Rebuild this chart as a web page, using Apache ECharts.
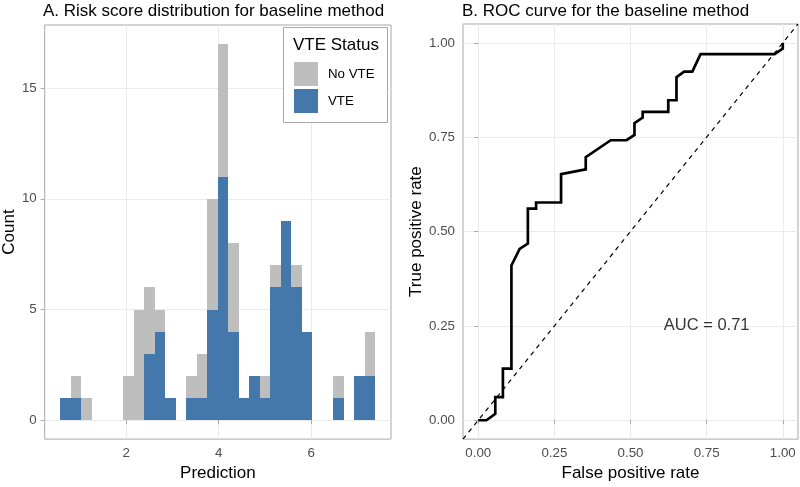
<!DOCTYPE html>
<html>
<head>
<meta charset="utf-8">
<script src="https://cdn.jsdelivr.net/npm/echarts@6/dist/echarts.min.js"></script>
<style>html,body{margin:0;padding:0;background:#fff}#c{width:800px;height:487px}</style>
</head>
<body>
<div id="c"></div>
<script>
// ---- Panel A: histogram (30 bins) ----
const binCenters = [0.6934,0.9202,1.1470,1.3738,1.6006,1.8274,2.0542,2.2810,2.5078,2.7346,
                    2.9614,3.1882,3.4150,3.6418,3.8686,4.0954,4.3222,4.5490,4.7758,5.0026,
                    5.2294,5.4562,5.6830,5.9098,6.1366,6.3634,6.5902,6.8170,7.0438,7.2706];
const binWidth = 0.2268;
const vteCounts   = [1,1,0,0,0,0,0,0,3,4,1,0,1,1,5,11,4,1,2,1,6,9,6,4,0,0,1,0,2,2];
const noVteCounts = [0,1,1,0,0,0,2,5,3,1,0,0,1,2,5,6,4,0,0,1,1,0,1,0,0,0,1,0,0,2];
const histXTicks = [2,4,6];
const histYTicks = [0,5,10,15];
const histXRange = [0.2398, 7.7232];
const histYRange = [-0.85, 17.85];
const legendNames = ['No VTE','VTE'];
const legendTitle = 'VTE Status';

// ---- Panel B: ROC curve ----
const rocFpr = [0,0.027,0.056,0.056,0.081,0.081,0.109,0.109,0.136,0.163,0.163,0.19,0.19,0.272,0.272,0.353,0.353,
                0.435,0.487,0.513,0.513,0.54,0.54,0.624,0.624,0.651,0.651,0.676,0.703,0.73,0.973,1.0,1.0];
const rocTpr = [0,0,0.017,0.061,0.061,0.137,0.137,0.41,0.454,0.468,0.561,0.561,0.577,0.577,0.652,0.665,0.697,
                0.742,0.742,0.756,0.787,0.802,0.817,0.817,0.848,0.848,0.909,0.924,0.924,0.97,0.97,0.985,1.0];
const rocTicks = [0,0.25,0.5,0.75,1];
const rocRange = [-0.05, 1.05];
const aucLabel = 'AUC = 0.71';
const aucPos = [0.75, 0.25];

const FONT = 'Liberation Sans, Arial, Helvetica, sans-serif';
const GRID_C = '#ebebeb', BORDER_C = '#a8a8a8', TICK_TXT = '#4d4d4d';
const GRAY = '#bebebe', BLUE = '#4477aa';

const vteData = [], noVteData = [];
binCenters.forEach((c, i) => {
  if (vteCounts[i] > 0) vteData.push([c, 0, vteCounts[i]]);
  if (noVteCounts[i] > 0) noVteData.push([c, vteCounts[i], vteCounts[i] + noVteCounts[i]]);
});

function renderBin(params, api) {
  const x = api.value(0), lo = api.value(1), hi = api.value(2);
  const p0 = api.coord([x - binWidth / 2, hi]);
  const p1 = api.coord([x + binWidth / 2, lo]);
  const x0 = Math.round(p0[0]), x1 = Math.round(p1[0]);
  const y0 = Math.round(p0[1]), y1 = Math.round(p1[1]);
  return { type: 'rect', shape: { x: x0, y: y0, width: x1 - x0, height: y1 - y0 },
           style: { fill: api.visual('color') } };
}

function axisCommon(ticks, fmt) {
  return {
    axisLine: { show: false },
    axisTick: { show: true, customValues: ticks, length: 4, lineStyle: { color: BORDER_C } },
    axisLabel: { customValues: ticks, color: TICK_TXT, fontSize: 13.3, fontFamily: FONT, formatter: fmt },
    splitLine: { show: true, lineStyle: { color: GRID_C, width: 1 } },
    nameLocation: 'middle',
    nameTextStyle: { color: '#000', fontSize: 17, fontFamily: FONT }
  };
}

const chart = echarts.init(document.getElementById('c'), null, { renderer: 'canvas' });
const fmt2 = v => v.toFixed(2);
const fmtInt = v => String(Math.round(v));

chart.setOption({
  backgroundColor: '#fff',
  animation: false,
  title: [
    { text: 'A. Risk score distribution for baseline method', left: 43, top: 3, padding: 0,
      textStyle: { fontSize: 17, fontWeight: 'normal', color: '#000', fontFamily: FONT } },
    { text: 'B. ROC curve for the baseline method', left: 462, top: 3, padding: 0,
      textStyle: { fontSize: 17, fontWeight: 'normal', color: '#000', fontFamily: FONT } }
  ],
  grid: [
    { left: 44, top: 25, width: 347, height: 420, show: true, borderColor: BORDER_C, borderWidth: 1, backgroundColor: 'transparent' },
    { left: 463, top: 24, width: 335, height: 422, show: true, borderColor: BORDER_C, borderWidth: 1, backgroundColor: 'transparent' }
  ],
  xAxis: [
    Object.assign(axisCommon(histXTicks, fmtInt), {
      type: 'value', gridIndex: 0, min: histXRange[0], max: histXRange[1], interval: 1,
      name: 'Prediction', nameGap: 22 }),
    Object.assign(axisCommon(rocTicks, fmt2), {
      type: 'value', gridIndex: 1, min: rocRange[0], max: rocRange[1], interval: 0.125,
      name: 'False positive rate', nameGap: 22 })
  ],
  yAxis: [
    Object.assign(axisCommon(histYTicks, fmtInt), {
      type: 'value', gridIndex: 0, min: histYRange[0], max: histYRange[1], interval: 2.5,
      name: 'Count', nameGap: 25 }),
    Object.assign(axisCommon(rocTicks, fmt2), {
      type: 'value', gridIndex: 1, min: rocRange[0], max: rocRange[1], interval: 0.125,
      name: 'True positive rate', nameGap: 38 })
  ],
  legend: {
    data: legendNames, orient: 'vertical', left: 294, top: 62, padding: 0,
    itemWidth: 24, itemHeight: 24, itemGap: 3, icon: 'rect', selectedMode: false, z: 20,
    textStyle: { fontSize: 13.3, color: '#000', fontFamily: FONT, padding: [0, 0, 0, 5] }
  },
  graphic: [
    { type: 'rect', z: 10, shape: { x: 283.5, y: 27.5, width: 104, height: 95 },
      style: { fill: '#fff', stroke: BORDER_C, lineWidth: 1 } },
    { type: 'text', z: 11, x: 293, y: 45,
      style: { text: legendTitle, font: '17px ' + FONT, fill: '#000', verticalAlign: 'middle' } }
  ],
  series: [
    { name: 'VTE', type: 'custom', xAxisIndex: 0, yAxisIndex: 0, renderItem: renderBin,
      itemStyle: { color: BLUE }, encode: { x: 0, y: [1, 2] }, data: vteData, z: 2 },
    { name: 'No VTE', type: 'custom', xAxisIndex: 0, yAxisIndex: 0, renderItem: renderBin,
      itemStyle: { color: GRAY }, encode: { x: 0, y: [1, 2] }, data: noVteData, z: 2 },
    { name: 'diagonal', type: 'line', xAxisIndex: 1, yAxisIndex: 1, showSymbol: false, silent: true,
      data: [[rocRange[0], rocRange[0]], [rocRange[1], rocRange[1]]],
      lineStyle: { color: '#000', width: 1.2, type: [4.5, 4.5] }, z: 3 },
    { name: 'ROC', type: 'line', xAxisIndex: 1, yAxisIndex: 1, showSymbol: false, silent: true,
      data: rocFpr.map((f, i) => [f, rocTpr[i]]),
      lineStyle: { color: '#000', width: 2.7, join: 'miter' }, z: 4 },
    { name: 'AUC', type: 'scatter', xAxisIndex: 1, yAxisIndex: 1, symbolSize: 1, silent: true,
      itemStyle: { color: 'rgba(0,0,0,0)' },
      label: { show: true, position: 'inside', formatter: aucLabel, color: '#000', fontSize: 16.5, fontFamily: FONT },
      data: [aucPos], z: 5 }
  ]
});
</script>
</body>
</html>
